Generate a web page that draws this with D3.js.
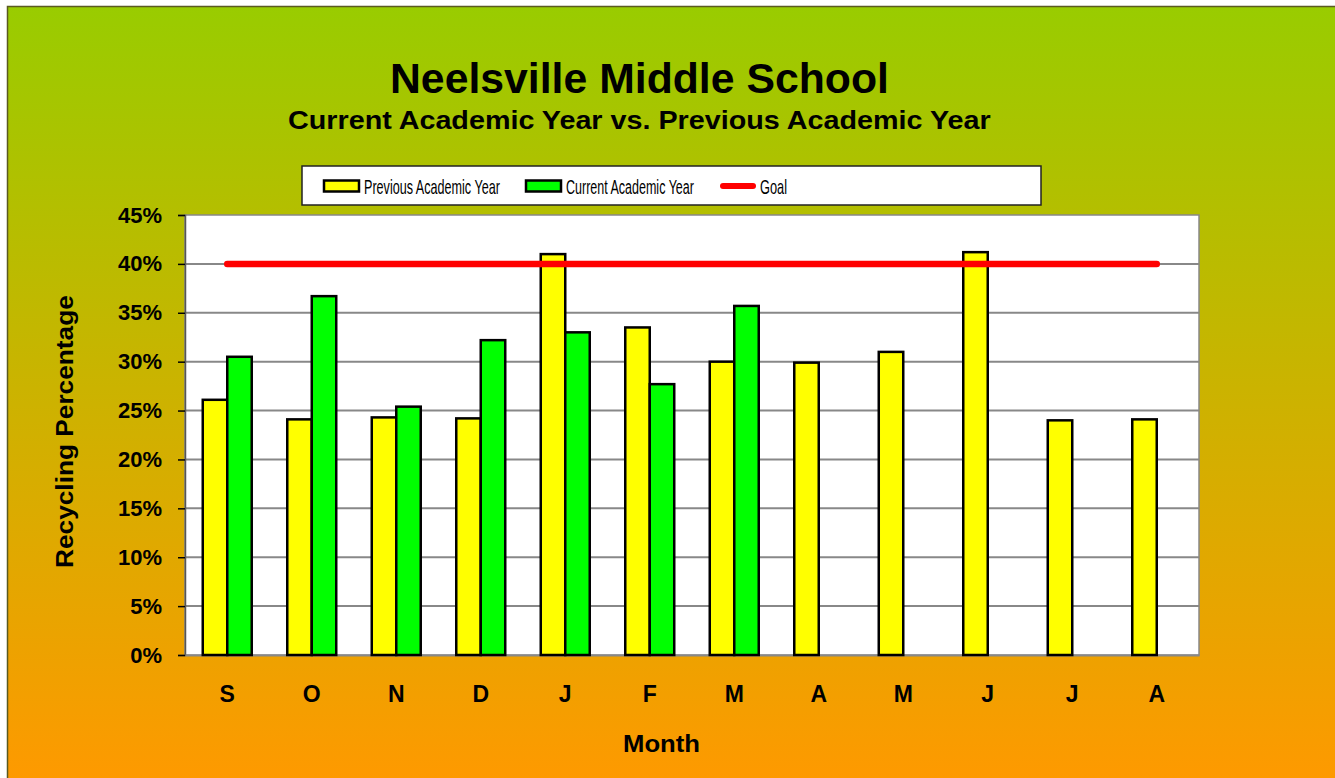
<!DOCTYPE html>
<html><head><meta charset="utf-8">
<script src="https://cdn.jsdelivr.net/npm/d3@7"></script>
<style>body{margin:0;background:#fff}svg{display:block}text{font-family:"Liberation Sans",Arial,sans-serif}</style>
</head><body><svg id="c" width="1335" height="778"></svg>
<script>
const months = ["S","O","N","D","J","F","M","A","M","J","J","A"];
const previousYear = [26.1,24.1,24.3,24.2,41.0,33.5,30.0,29.9,31.0,41.2,24.0,24.1];
const currentYear = [30.5,36.7,25.4,32.2,33.0,27.7,35.7,null,null,null,null,null];
const goal = [40,40,40,40,40,40,40,40,40,40,40,40];
const yTicks = [0,5,10,15,20,25,30,35,40,45];

const svg = d3.select("#c");
const defs = svg.append("defs");
const g = defs.append("linearGradient").attr("id","bg").attr("x1",0).attr("y1",0).attr("x2",0).attr("y2",1);
g.append("stop").attr("offset","0%").attr("stop-color","#99cc00");
g.append("stop").attr("offset","100%").attr("stop-color","#ff9900");
svg.append("rect").attr("x",7.5).attr("y",6.5).attr("width",1340).attr("height",780)
  .attr("fill","url(#bg)").attr("stroke","#5a5a20").attr("stroke-width",1.5);

const L=185, R=1199, T=215, B=655;
const x = d3.scaleBand().domain(d3.range(months.length)).range([L,R]);
const y = d3.scaleLinear().domain([0,45]).range([B,T]);
const barW = x.bandwidth()/(2+1.45);

svg.append("rect").attr("x",L).attr("y",T).attr("width",R-L).attr("height",B-T).attr("fill","#fff").attr("stroke","#888").attr("stroke-width",1.5);
svg.append("g").selectAll("line").data(yTicks.slice(1,-1)).join("line")
  .attr("x1",L).attr("x2",R).attr("y1",d=>y(d)).attr("y2",d=>y(d)).attr("stroke","#888").attr("stroke-width",2);

const yAxis = svg.append("g").attr("transform",`translate(${L},0)`)
  .call(d3.axisLeft(y).tickValues(yTicks).tickFormat(d=>d+"%").tickSize(7).tickPadding(16));
yAxis.select(".domain").attr("stroke","#555").attr("stroke-width",1.5);
yAxis.selectAll(".tick line").attr("stroke","#000").attr("stroke-width",1.5);
yAxis.selectAll("text").attr("font-size",22).attr("font-weight","bold").attr("fill","#000").attr("font-family","Liberation Sans, Arial, sans-serif");

const xAxis = svg.append("g").attr("transform",`translate(0,${B})`)
  .call(d3.axisBottom(x).tickFormat(i=>months[i]).tickSize(0).tickPadding(31));
xAxis.select(".domain").attr("stroke","#888").attr("stroke-width",2);
xAxis.selectAll("text").attr("font-size",23).attr("font-weight","bold").attr("fill","#000").attr("font-family","Liberation Sans, Arial, sans-serif");

const c = i => x(i)+x.bandwidth()/2;
svg.append("g").selectAll("rect").data(previousYear).join("rect")
  .attr("x",(d,i)=>c(i)-barW).attr("width",barW).attr("y",d=>y(d)).attr("height",d=>B-y(d))
  .attr("fill","#ffff00").attr("stroke","#000").attr("stroke-width",2.5);
svg.append("g").selectAll("rect").data(currentYear.map((v,i)=>({v,i})).filter(d=>d.v!=null)).join("rect")
  .attr("x",d=>c(d.i)).attr("width",barW).attr("y",d=>y(d.v)).attr("height",d=>B-y(d.v))
  .attr("fill","#00ff00").attr("stroke","#000").attr("stroke-width",2.5);

svg.append("path").datum(goal).attr("d",d3.line().x((d,i)=>c(i)).y(d=>y(d)))
  .attr("fill","none").attr("stroke","#ff0000").attr("stroke-width",6.5).attr("stroke-linecap","round");

// fit text to a width by horizontal scaling
function fitText(sel, x0, y0, width, rotate){
  const w = sel.node().getComputedTextLength();
  const s = width / w;
  sel.attr("transform", `translate(${x0},${y0})${rotate?" rotate(-90)":""} scale(${s},1)`);
  return sel;
}

fitText(svg.append("text").attr("font-size",42).attr("font-weight","bold").text("Neelsville Middle School"),390,93,499);
fitText(svg.append("text").attr("font-size",26).attr("font-weight","bold").text("Current Academic Year vs. Previous Academic Year"),288,129,703);
fitText(svg.append("text").attr("font-size",24).attr("font-weight","bold").text("Month"),623,752,77);
fitText(svg.append("text").attr("font-size",24).attr("font-weight","bold").text("Recycling Percentage"),73,568,273,true);

// legend
const lg = svg.append("g");
lg.append("rect").attr("x",302).attr("y",166).attr("width",739).attr("height",39).attr("fill","#fff").attr("stroke","#222").attr("stroke-width",1.5);
const items = [
  {label:"Previous Academic Year", type:"bar", color:"#ffff00", sx:324, tx:364, tw:136},
  {label:"Current Academic Year", type:"bar", color:"#00ff00", sx:526, tx:566, tw:128},
  {label:"Goal", type:"line", color:"#ff0000", sx:720, tx:760, tw:27}
];
items.forEach(it=>{
  if(it.type==="bar") lg.append("rect").attr("x",it.sx).attr("y",180.5).attr("width",35).attr("height",11).attr("fill",it.color).attr("stroke","#000").attr("stroke-width",2.5);
  else lg.append("line").attr("x1",it.sx+3).attr("x2",it.sx+33).attr("y1",186).attr("y2",186).attr("stroke",it.color).attr("stroke-width",6).attr("stroke-linecap","round");
  fitText(lg.append("text").attr("font-size",20)
    .style("font-family","'Liberation Sans Narrow', 'Liberation Sans', Arial, sans-serif").text(it.label), it.tx, 194, it.tw);
});
</script></body></html>
